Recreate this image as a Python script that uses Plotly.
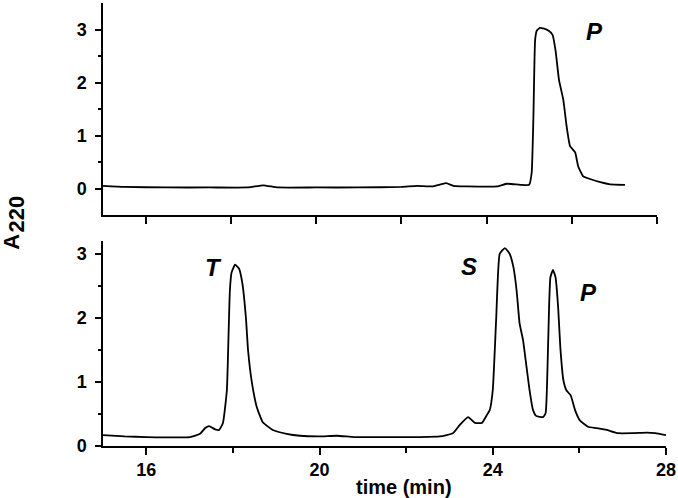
import plotly.graph_objects as go
from plotly.subplots import make_subplots

# ---- data ----
top_time = [15.0, 15.5, 16.5, 17.5, 18.4, 18.76, 19.1, 20.0, 21.0, 22.0, 22.37, 22.75,
            23.05, 23.22, 23.54, 24.25, 24.48, 24.79, 25.0, 25.06, 25.1, 25.14, 25.18,
            25.25, 25.33, 25.45, 25.55, 25.62, 25.7, 25.8, 25.88, 25.96, 26.08, 26.15,
            26.27, 26.43, 26.67, 26.9, 27.25]
top_abs = [0.05, 0.03, 0.02, 0.02, 0.02, 0.06, 0.02, 0.02, 0.02, 0.03, 0.05, 0.04,
           0.10, 0.05, 0.04, 0.04, 0.09, 0.07, 0.07, 0.3, 1.36, 2.8, 2.98,
           3.03, 3.02, 2.98, 2.9, 2.6, 2.05, 1.68, 1.17, 0.8, 0.68, 0.42,
           0.23, 0.18, 0.12, 0.08, 0.07]

bot_time = [15.0, 15.5, 16.0, 17.01, 17.24, 17.36, 17.45, 17.59, 17.68, 17.77, 17.86,
            17.9, 17.93, 17.97, 18.05, 18.14, 18.22, 18.3, 18.35, 18.44, 18.55, 18.69,
            18.92, 19.24, 19.55, 20.0, 20.4, 20.8, 21.5, 22.32, 22.78, 23.08, 23.24,
            23.43, 23.59, 23.75, 23.86, 23.93, 24.0, 24.08, 24.16, 24.28, 24.39, 24.48,
            24.55, 24.62, 24.7, 24.78, 24.85, 24.93, 25.0, 25.16, 25.22, 25.27, 25.3,
            25.33, 25.39, 25.45, 25.51, 25.56, 25.63, 25.7, 25.8, 25.9, 26.01, 26.2,
            26.4, 26.63, 26.89, 27.23, 27.56, 27.75, 28.0]
bot_abs = [0.17, 0.15, 0.14, 0.14, 0.19, 0.28, 0.31, 0.26, 0.25, 0.36, 0.87,
           1.76, 2.43, 2.71, 2.83, 2.77, 2.53, 2.0, 1.49, 0.98, 0.61, 0.37,
           0.25, 0.19, 0.16, 0.15, 0.16, 0.14, 0.14, 0.14, 0.15, 0.2, 0.33,
           0.45, 0.36, 0.36, 0.48, 0.56, 0.87, 2.0, 3.0, 3.09, 3.0, 2.78,
           2.43, 1.91, 1.65, 1.23, 0.87, 0.56, 0.47, 0.45, 0.51, 1.38, 2.16,
           2.63, 2.75, 2.63, 2.16, 1.54, 1.03, 0.87, 0.79, 0.56, 0.4, 0.3,
           0.28, 0.25, 0.2, 0.2, 0.21, 0.2, 0.17]

peak_labels = ["P", "T", "S", "P"]
peak_label_pos = [(26.53, 2.96, 1), (17.54, 2.78, 2), (23.44, 2.8, 2), (26.22, 2.4, 2)]

FONT = "Liberation Sans, Arial, sans-serif"

fig = make_subplots(rows=2, cols=1)
fig.add_trace(go.Scatter(x=top_time, y=top_abs, mode="lines",
                         line=dict(color="black", width=1.8, shape="spline", smoothing=0.4),
                         showlegend=False), row=1, col=1)
fig.add_trace(go.Scatter(x=bot_time, y=bot_abs, mode="lines",
                         line=dict(color="black", width=1.8, shape="spline", smoothing=0.4),
                         showlegend=False), row=2, col=1)

tickfont = dict(family=FONT, size=18, color="black", weight="bold")
axis_common = dict(showline=True, linecolor="black", linewidth=1.5, showgrid=False,
                   zeroline=False, ticks="outside", tickcolor="black", tickwidth=1.5)

fig.update_layout(
    width=678, height=498,
    margin=dict(l=103, r=12, t=3, b=52),
    paper_bgcolor="white", plot_bgcolor="white",
    xaxis=dict(domain=[0, 0.984], range=[15, 28], tickvals=[16, 18, 20, 22, 24, 26, 28],
               showticklabels=False, ticklen=7, anchor="y", **axis_common),
    yaxis=dict(domain=[0.5214, 1], range=[-0.5, 3.5], tickvals=[0, 1, 2, 3],
               ticklen=6, tickfont=tickfont, ticklabelstandoff=5, anchor="x",
               minor=dict(tickvals=[0.5, 1.5, 2.5], ticklen=3, ticks="outside",
                          tickcolor="black", tickwidth=1.5),
               **axis_common),
    xaxis2=dict(domain=[0, 1], range=[15, 28], tickvals=[16, 20, 24, 28],
                ticktext=["16", "20", "24", "28"], ticklen=7, tickfont=tickfont,
                anchor="y2",
                minor=dict(tickvals=[18, 22, 26], ticklen=5, ticks="outside",
                           tickcolor="black", tickwidth=1.5),
                **axis_common),
    yaxis2=dict(domain=[0, 0.4628], range=[0, 3.2], tickvals=[0, 1, 2, 3],
                ticklen=6, tickfont=tickfont, ticklabelstandoff=5, anchor="x2",
                minor=dict(tickvals=[0.5, 1.5, 2.5], ticklen=3, ticks="outside",
                           tickcolor="black", tickwidth=1.5),
                **axis_common),
)

for lab, (px, py, panel) in zip(peak_labels, peak_label_pos):
    fig.add_annotation(x=px, y=py, xref="x" if panel == 1 else "x2",
                       yref="y" if panel == 1 else "y2", text=lab, showarrow=False,
                       font=dict(family=FONT, size=24, color="black", weight="bold",
                                 style="italic"),
                       xanchor="center", yanchor="middle")

# axis titles
fig.add_annotation(x=0.535, y=-0.093, xref="paper", yref="paper", text="time (min)",
                   showarrow=False, font=dict(family=FONT, size=20, color="black", weight="bold"),
                   xanchor="center", yanchor="middle")
fig.add_annotation(x=-0.163, y=0.4616, xref="paper", yref="paper", text="A",
                   showarrow=False, textangle=-90,
                   font=dict(family=FONT, size=22, color="black", weight="bold"),
                   xanchor="center", yanchor="middle")
fig.add_annotation(x=-0.1545, y=0.5226, xref="paper", yref="paper", text="220",
                   showarrow=False, textangle=-90,
                   font=dict(family=FONT, size=22, color="black", weight="bold"),
                   xanchor="center", yanchor="middle")

fig.write_html("out.html", config={"displayModeBar": False},
               post_script="document.body.style.margin='0';document.body.style.padding='0';")
